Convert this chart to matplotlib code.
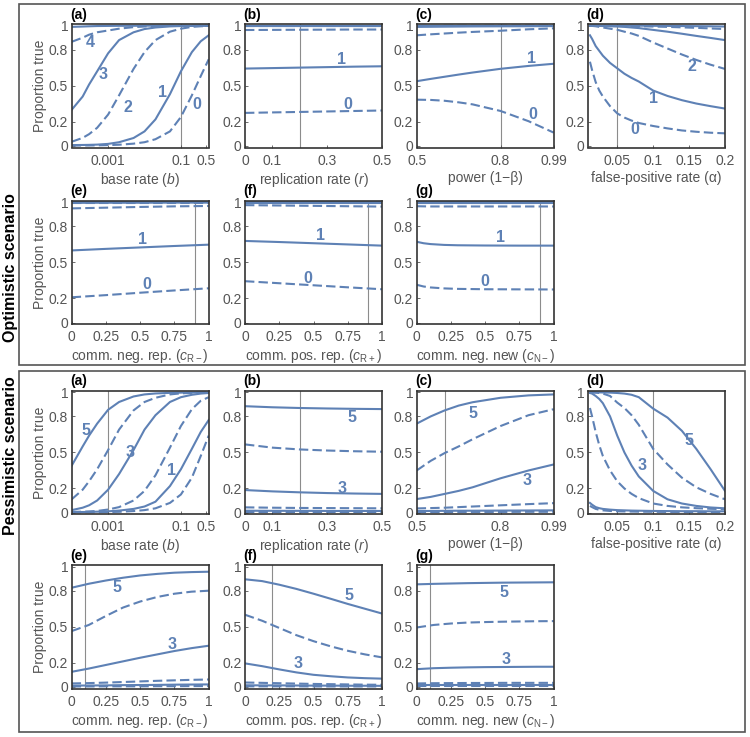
import matplotlib.pyplot as plt
from matplotlib.patches import Rectangle

plt.rcParams['font.family'] = ['Liberation Sans', 'DejaVu Sans']
plt.rcParams['mathtext.fontset'] = 'custom'
plt.rcParams['mathtext.rm'] = 'Liberation Sans'
plt.rcParams['mathtext.it'] = 'Liberation Sans:italic'

# ---- data ----
Y_TICKS = [0, 0.2, 0.5, 0.8, 1]
Y_LABELS = ['0', '0.2', '0.5', '0.8', '1']

X_A = [1e-4, 2e-4, 3e-4, 5e-4, 1e-3, 2e-3, 5e-3, 0.01, 0.02, 0.05, 0.1, 0.2, 0.35, 0.58]
X_B = [0, 0.1, 0.2, 0.3, 0.4, 0.5]
X_C = [0.5, 0.55, 0.6, 0.65, 0.7, 0.8, 0.9, 0.99]
X_D = [0.012, 0.015, 0.02, 0.025, 0.03, 0.04, 0.05, 0.06, 0.07, 0.08, 0.1, 0.12, 0.14, 0.16, 0.18, 0.2]
X_E = [0, 0.25, 0.5, 0.75, 1]
X_G = [0, 0.05, 0.1, 0.2, 0.3, 0.5, 0.75, 1]
X_9 = [0, 0.125, 0.25, 0.375, 0.5, 0.625, 0.75, 0.875, 1]

# optimistic scenario
opt_a = {
    0: [0.002, 0.003, 0.003, 0.004, 0.006, 0.009, 0.018, 0.03, 0.055, 0.12, 0.24, 0.42, 0.58, 0.72],
    1: [0.006, 0.007, 0.008, 0.01, 0.016, 0.03, 0.065, 0.12, 0.22, 0.43, 0.62, 0.78, 0.87, 0.92],
    2: [0.034, 0.066, 0.097, 0.15, 0.26, 0.42, 0.64, 0.78, 0.88, 0.95, 0.975, 0.99, 0.995, 0.998],
    3: [0.30, 0.41, 0.51, 0.62, 0.77, 0.88, 0.945, 0.972, 0.985, 0.994, 0.997, 0.998, 0.999, 1.0],
    4: [0.866, 0.90, 0.925, 0.945, 0.96, 0.975, 0.988, 0.993, 0.996, 0.998, 0.999, 0.999, 1.0, 1.0],
    5: [0.99, 0.993, 0.995, 0.997, 0.998, 0.999, 0.999, 1.0, 1.0, 1.0, 1.0, 1.0, 1.0, 1.0],
}
opt_a_lab = {4: (3.2e-4, 0.86), 3: (7.4e-4, 0.594), 2: (3.5e-3, 0.32), 1: (0.032, 0.44), 0: (0.28, 0.34)}

opt_b = {
    0: [0.274, 0.278, 0.282, 0.286, 0.29, 0.294],
    1: [0.643, 0.647, 0.651, 0.655, 0.659, 0.662],
    2: [0.964, 0.965, 0.966, 0.967, 0.968, 0.968],
    3: [0.997, 0.997, 0.997, 0.997, 0.997, 0.997],
    4: [0.999, 0.999, 0.999, 0.999, 0.999, 0.999],
    5: [1.0, 1.0, 1.0, 1.0, 1.0, 1.0],
}
opt_b_lab = {1: (0.353, 0.715), 0: (0.377, 0.344)}

opt_c = {
    0: [0.384, 0.382, 0.375, 0.362, 0.345, 0.29, 0.205, 0.11],
    1: [0.538, 0.557, 0.575, 0.593, 0.61, 0.641, 0.665, 0.683],
    2: [0.92, 0.928, 0.935, 0.942, 0.948, 0.958, 0.97, 0.978],
    3: [0.99, 0.991, 0.992, 0.993, 0.994, 0.995, 0.996, 0.997],
    4: [0.998, 0.998, 0.999, 0.999, 0.999, 0.999, 1.0, 1.0],
    5: [1.0, 1.0, 1.0, 1.0, 1.0, 1.0, 1.0, 1.0],
}
opt_c_lab = {1: (0.911, 0.725), 0: (0.915, 0.258)}

opt_d = {
    0: [0.70, 0.63, 0.53, 0.46, 0.41, 0.33, 0.27, 0.235, 0.21, 0.19, 0.165, 0.145, 0.128, 0.117, 0.109, 0.104],
    1: [0.92, 0.89, 0.83, 0.79, 0.75, 0.69, 0.645, 0.6, 0.565, 0.535, 0.46, 0.415, 0.38, 0.352, 0.33, 0.31],
    2: [1.0, 0.998, 0.995, 0.99, 0.985, 0.975, 0.966, 0.95, 0.935, 0.915, 0.86, 0.81, 0.76, 0.715, 0.675, 0.64],
    3: [1.0, 1.0, 0.999, 0.998, 0.997, 0.995, 0.993, 0.99, 0.985, 0.98, 0.965, 0.95, 0.933, 0.915, 0.898, 0.88],
    4: [1.0, 1.0, 1.0, 1.0, 1.0, 0.999, 0.998, 0.997, 0.996, 0.995, 0.993, 0.99, 0.986, 0.982, 0.977, 0.972],
    5: [1.0, 1.0, 1.0, 1.0, 1.0, 1.0, 1.0, 1.0, 1.0, 1.0, 0.999, 0.998, 0.997, 0.996, 0.995, 0.993],
}
opt_d_lab = {2: (0.154, 0.664), 1: (0.101, 0.39), 0: (0.074, 0.137)}

opt_e = {
    0: [0.21, 0.228, 0.248, 0.267, 0.285],
    1: [0.60, 0.613, 0.625, 0.637, 0.648],
    2: [0.95, 0.956, 0.962, 0.967, 0.97],
    3: [0.996, 0.997, 0.997, 0.998, 0.998],
    4: [0.999, 0.999, 0.999, 0.999, 0.999],
    5: [1.0, 1.0, 1.0, 1.0, 1.0],
}
opt_e_lab = {1: (0.52, 0.69), 0: (0.55, 0.316)}

opt_f = {
    0: [0.344, 0.327, 0.31, 0.293, 0.277],
    1: [0.679, 0.67, 0.66, 0.65, 0.64],
    2: [0.977, 0.974, 0.971, 0.968, 0.965],
    3: [0.998, 0.998, 0.998, 0.998, 0.998],
    4: [0.999, 0.999, 0.999, 0.999, 0.999],
    5: [1.0, 1.0, 1.0, 1.0, 1.0],
}
opt_f_lab = {1: (0.55, 0.726), 0: (0.46, 0.368)}

opt_g = {
    0: [0.314, 0.3, 0.292, 0.284, 0.28, 0.277, 0.276, 0.275],
    1: [0.672, 0.66, 0.653, 0.646, 0.643, 0.641, 0.64, 0.64],
    2: [0.968, 0.967, 0.966, 0.966, 0.966, 0.966, 0.966, 0.966],
    3: [0.998, 0.998, 0.998, 0.998, 0.998, 0.998, 0.998, 0.998],
    4: [0.999, 0.999, 0.999, 0.999, 0.999, 0.999, 0.999, 0.999],
    5: [1.0, 1.0, 1.0, 1.0, 1.0, 1.0, 1.0, 1.0],
}
opt_g_lab = {1: (0.61, 0.709), 0: (0.50, 0.342)}

# pessimistic scenario
pes_a = {
    0: [0.002, 0.002, 0.002, 0.003, 0.004, 0.006, 0.012, 0.02, 0.035, 0.08, 0.15, 0.29, 0.47, 0.64],
    1: [0.003, 0.004, 0.005, 0.007, 0.01, 0.016, 0.03, 0.05, 0.09, 0.22, 0.36, 0.53, 0.67, 0.77],
    2: [0.005, 0.007, 0.009, 0.013, 0.025, 0.045, 0.1, 0.18, 0.31, 0.54, 0.72, 0.86, 0.93, 0.96],
    3: [0.02, 0.04, 0.06, 0.1, 0.19, 0.32, 0.52, 0.69, 0.81, 0.92, 0.96, 0.98, 0.99, 0.995],
    4: [0.11, 0.19, 0.26, 0.36, 0.52, 0.69, 0.85, 0.92, 0.955, 0.983, 0.992, 0.996, 0.998, 0.999],
    5: [0.39, 0.55, 0.64, 0.74, 0.855, 0.92, 0.966, 0.983, 0.991, 0.996, 0.998, 0.999, 1.0, 1.0],
}
pes_a_lab = {5: (2.45e-4, 0.684), 3: (3.9e-3, 0.503), 1: (0.055, 0.35)}

pes_b = {
    0: [0.005, 0.005, 0.005, 0.005, 0.005, 0.005],
    1: [0.015, 0.014, 0.014, 0.013, 0.013, 0.013],
    2: [0.043, 0.04, 0.038, 0.037, 0.036, 0.035],
    3: [0.187, 0.176, 0.168, 0.162, 0.158, 0.155],
    4: [0.567, 0.54, 0.525, 0.516, 0.51, 0.506],
    5: [0.885, 0.876, 0.87, 0.866, 0.863, 0.861],
}
pes_b_lab = {5: (0.39, 0.79), 3: (0.353, 0.204)}

pes_c = {
    0: [0.004, 0.004, 0.004, 0.005, 0.005, 0.005, 0.006, 0.006],
    1: [0.012, 0.013, 0.014, 0.015, 0.015, 0.016, 0.017, 0.018],
    2: [0.034, 0.037, 0.04, 0.045, 0.05, 0.06, 0.07, 0.078],
    3: [0.112, 0.13, 0.155, 0.18, 0.21, 0.285, 0.35, 0.40],
    4: [0.35, 0.43, 0.495, 0.55, 0.61, 0.72, 0.81, 0.86],
    5: [0.74, 0.80, 0.85, 0.89, 0.918, 0.955, 0.975, 0.983],
}
pes_c_lab = {5: (0.70, 0.824), 3: (0.894, 0.265)}

pes_d = {
    0: [0.055, 0.045, 0.03, 0.023, 0.018, 0.013, 0.01, 0.009, 0.008, 0.007, 0.006, 0.005, 0.005, 0.004, 0.004, 0.004],
    1: [0.08, 0.065, 0.045, 0.036, 0.03, 0.024, 0.02, 0.018, 0.016, 0.015, 0.013, 0.012, 0.011, 0.011, 0.01, 0.01],
    2: [0.87, 0.80, 0.67, 0.56, 0.47, 0.35, 0.26, 0.2, 0.155, 0.12, 0.075, 0.055, 0.043, 0.036, 0.031, 0.028],
    3: [0.995, 0.99, 0.97, 0.945, 0.91, 0.80, 0.64, 0.5, 0.39, 0.3, 0.18, 0.11, 0.075, 0.055, 0.042, 0.035],
    4: [1.0, 1.0, 0.998, 0.995, 0.99, 0.97, 0.915, 0.87, 0.81, 0.73, 0.53, 0.4, 0.29, 0.21, 0.155, 0.11],
    5: [1.0, 1.0, 1.0, 1.0, 0.999, 0.998, 0.995, 0.99, 0.98, 0.96, 0.865, 0.79, 0.68, 0.53, 0.36, 0.18],
}
pes_d_lab = {5: (0.15, 0.60), 3: (0.084, 0.39)}

pes_e = {
    0: [0.003, 0.003, 0.004, 0.004, 0.004, 0.005, 0.005, 0.006, 0.006],
    1: [0.01, 0.011, 0.012, 0.014, 0.015, 0.016, 0.018, 0.019, 0.02],
    2: [0.028, 0.031, 0.035, 0.04, 0.045, 0.05, 0.054, 0.058, 0.061],
    3: [0.125, 0.152, 0.182, 0.212, 0.242, 0.27, 0.298, 0.322, 0.342],
    4: [0.464, 0.515, 0.59, 0.66, 0.71, 0.748, 0.775, 0.792, 0.80],
    5: [0.825, 0.858, 0.885, 0.908, 0.927, 0.94, 0.95, 0.955, 0.958],
}
pes_e_lab = {5: (0.333, 0.825), 3: (0.736, 0.353)}

pes_f = {
    0: [0.004, 0.004, 0.004, 0.004, 0.003, 0.003, 0.003, 0.003, 0.003],
    1: [0.013, 0.012, 0.012, 0.011, 0.01, 0.01, 0.009, 0.009, 0.008],
    2: [0.036, 0.033, 0.03, 0.027, 0.024, 0.022, 0.02, 0.018, 0.017],
    3: [0.195, 0.172, 0.145, 0.12, 0.10, 0.088, 0.078, 0.072, 0.068],
    4: [0.60, 0.55, 0.49, 0.43, 0.38, 0.337, 0.30, 0.27, 0.245],
    5: [0.895, 0.88, 0.85, 0.815, 0.775, 0.733, 0.69, 0.65, 0.61],
}
pes_f_lab = {5: (0.76, 0.756), 3: (0.384, 0.194)}

pes_g = {
    0: [0.004, 0.004, 0.004, 0.004, 0.004, 0.004, 0.004, 0.004, 0.004],
    1: [0.012, 0.012, 0.012, 0.012, 0.012, 0.012, 0.012, 0.012, 0.012],
    2: [0.028, 0.03, 0.031, 0.032, 0.032, 0.033, 0.033, 0.033, 0.033],
    3: [0.147, 0.155, 0.159, 0.162, 0.164, 0.165, 0.166, 0.167, 0.167],
    4: [0.494, 0.515, 0.527, 0.535, 0.539, 0.542, 0.544, 0.546, 0.547],
    5: [0.853, 0.857, 0.86, 0.863, 0.865, 0.867, 0.868, 0.869, 0.87],
}
pes_g_lab = {5: (0.637, 0.783), 3: (0.65, 0.23)}

# ---- layout ----
W, H = 750, 737
BLUE = '#5e81b5'
GRAY = '#555555'
COL_X = [71.7, 245, 416.7, 588]
ROW_Y = [24, 200.7, 390.7, 565]
AW, AH = 137, 123.5

fig = plt.figure(figsize=(W / 100, H / 100), dpi=100)


def draw(col, row, xs, curves, labels, vline, xlim, xticks, xticklabels, xlabel, tag, logx=False):
    ax = fig.add_axes([COL_X[col] / W, 1 - (ROW_Y[row] + AH) / H, AW / W, AH / H])
    if logx:
        ax.set_xscale('log')
    ax.axvline(vline, color='#8c8c8c', lw=0.8, zorder=1)
    for k, ys in curves.items():
        ls = '-' if k % 2 else (0, (4.5, 2))
        ax.plot(xs, ys, color=BLUE, lw=1.5, ls=ls, zorder=2)
    for k, (lx, ly) in labels.items():
        ax.text(lx, ly, str(k), color=BLUE, fontsize=11.5, fontweight='bold',
                ha='center', va='center', zorder=3)
    ax.set_xlim(*xlim)
    ax.set_ylim(-0.014, 1.014)
    ax.set_xticks(xticks)
    ax.set_xticklabels(xticklabels)
    ax.minorticks_off()
    ax.set_yticks(Y_TICKS)
    ax.set_yticklabels(Y_LABELS)
    ax.tick_params(direction='in', length=2.5, width=0.6, color=GRAY,
                   labelcolor=GRAY, labelsize=10)
    ax.tick_params(axis='x', pad=4.5)
    ax.tick_params(axis='y', pad=2.5)
    for s in ax.spines.values():
        s.set_color('#333333')
        s.set_linewidth(1.2)
    ax.set_xlabel(xlabel, fontsize=10, color=GRAY, labelpad=2)
    if col == 0:
        ax.set_ylabel('Proportion true', fontsize=10, color=GRAY, labelpad=1.5)
    ax.text(-0.01, 1.02, tag, transform=ax.transAxes, fontweight='bold',
            fontsize=10, ha='left', va='bottom')
    return ax


A_TICKS = ([0.001, 0.1, 0.5], ['0.001', '0.1', '0.5'])
B_TICKS = ([0, 0.1, 0.3, 0.5], ['0', '0.1', '0.3', '0.5'])
C_TICKS = ([0.5, 0.8, 0.99], ['0.5', '0.8', '0.99'])
D_TICKS = ([0.05, 0.1, 0.15, 0.2], ['0.05', '0.1', '0.15', '0.2'])
E_TICKS = ([0, 0.25, 0.5, 0.75, 1], ['0', '0.25', '0.5', '0.75', '1'])

LBL_A = r'base rate ($\mathit{b}$)'
LBL_B = r'replication rate ($\mathit{r}$)'
LBL_C = 'power (1\u2212\u03b2)'
LBL_D = 'false-positive rate (\u03b1)'
LBL_E = r'comm. neg. rep. ($c_{\mathrm{R}-}$)'
LBL_F = r'comm. pos. rep. ($c_{\mathrm{R}+}$)'
LBL_G = r'comm. neg. new ($c_{\mathrm{N}-}$)'

for r0, data, vl in [
    (0, (opt_a, opt_a_lab, opt_b, opt_b_lab, opt_c, opt_c_lab, opt_d, opt_d_lab,
         opt_e, opt_e_lab, opt_f, opt_f_lab, opt_g, opt_g_lab),
     (0.1, 0.2, 0.8, 0.05, 0.9, 0.9, 0.9)),
    (2, (pes_a, pes_a_lab, pes_b, pes_b_lab, pes_c, pes_c_lab, pes_d, pes_d_lab,
         pes_e, pes_e_lab, pes_f, pes_f_lab, pes_g, pes_g_lab),
     (0.001, 0.2, 0.6, 0.1, 0.1, 0.2, 0.1)),
]:
    a, al, b, bl, c, cl, d, dl, e, el, f, fl, g, gl = data
    xe = X_E if r0 == 0 else X_9
    xf = X_E if r0 == 0 else X_9
    xg = X_G if r0 == 0 else X_9
    draw(0, r0, X_A, a, al, vl[0], (1e-4, 0.58), *A_TICKS, LBL_A, '(a)', logx=True)
    draw(1, r0, X_B, b, bl, vl[1], (0, 0.5), *B_TICKS, LBL_B, '(b)')
    draw(2, r0, X_C, c, cl, vl[2], (0.5, 0.99), *C_TICKS, LBL_C, '(c)')
    draw(3, r0, X_D, d, dl, vl[3], (0.0093, 0.2), *D_TICKS, LBL_D, '(d)')
    draw(0, r0 + 1, xe, e, el, vl[4], (0, 1), *E_TICKS, LBL_E, '(e)')
    draw(1, r0 + 1, xf, f, fl, vl[5], (0, 1), *E_TICKS, LBL_F, '(f)')
    draw(2, r0 + 1, xg, g, gl, vl[6], (0, 1), *E_TICKS, LBL_G, '(g)')

# scenario boxes and labels
for y0, y1 in [(4, 365), (371, 732)]:
    fig.patches.append(Rectangle((19 / W, 1 - y1 / H), (745 - 19) / W, (y1 - y0) / H,
                                 transform=fig.transFigure, fill=False,
                                 edgecolor='#555555', lw=1.2))
fig.text(11 / W, 1 - 268 / H, 'Optimistic scenario', rotation=90, fontweight='bold',
         fontsize=11.5, ha='center', va='center')
fig.text(11 / W, 1 - 456 / H, 'Pessimistic scenario', rotation=90, fontweight='bold',
         fontsize=11.5, ha='center', va='center')

fig.savefig('out.png', dpi=100)
